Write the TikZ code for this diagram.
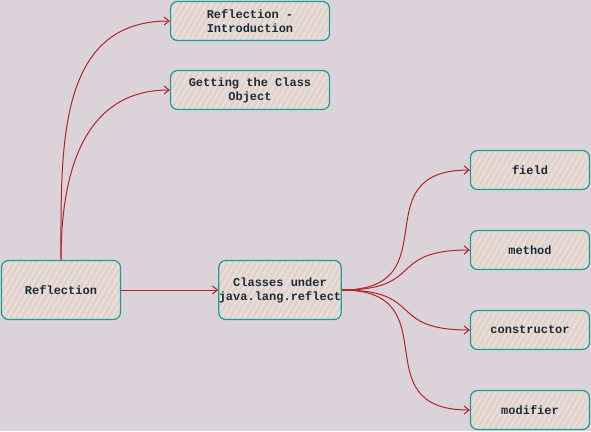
\documentclass[tikz,border=0pt]{standalone}
\usepackage{fontspec}
\setmonofont{Liberation Mono}
\usetikzlibrary{arrows.meta,patterns.meta,positioning}
\definecolor{bgmauve}{HTML}{DCD3DA}
\definecolor{edgeteal}{HTML}{1C9C98}
\definecolor{hatchpeach}{HTML}{F3E0C4}
\definecolor{inkblue}{HTML}{1B2B3A}
\definecolor{linkred}{HTML}{B22424}

\begin{document}
\begin{tikzpicture}[x=1pt,y=-1pt,>={Straight Barb[length=5pt,width=8pt]}]
        \tikzstyle{topic}=[draw=edgeteal,line width=1.2pt,rounded corners=7pt,
            pattern={Lines[angle=60,distance=5pt,line width=1.8pt]},pattern color=hatchpeach,
            text=inkblue,font=\ttfamily\bfseries\fontsize{12}{14}\selectfont,
            align=center,minimum width=119pt,minimum height=59pt,inner sep=0pt]
        \tikzstyle{leaf}=[topic,minimum height=39pt]
        \tikzstyle{wide}=[leaf,minimum width=159pt]
        \tikzstyle{link}=[->,draw=linkred,line width=1pt]
        % canvas
        \fill[bgmauve] (0,0) rectangle (591,431);
        % boxes
        \node[topic](refl) at (61,290){Reflection};
        \node[wide](intro) at (250,21){Reflection -\\Introduction};
        \node[wide](getobj) at (250,90){Getting the Class\\Object};
        \node[topic](classes) at (280,290){Classes under\\java.lang.reflect};
        \node[leaf](field) at (530,170){field};
        \node[leaf](method) at (530,250){method};
        \node[leaf](ctor) at (530,330){constructor};
        \node[leaf](modif) at (530,410){modifier};
        % links
        \draw[link] (refl.north) to[out=90,in=180,looseness=1.1] (intro.west);
        \draw[link] (refl.north) to[out=90,in=180,looseness=1.1] (getobj.west);
        \draw[link] (refl.east) -- (classes.west);
        \draw[link] (classes.east) to[out=0,in=180,looseness=1.6] (field.west);
        \draw[link] (classes.east) to[out=0,in=180,looseness=1.6] (method.west);
        \draw[link] (classes.east) to[out=0,in=180,looseness=1.6] (ctor.west);
        \draw[link] (classes.east) to[out=0,in=180,looseness=1.6] (modif.west);
\end{tikzpicture}
\end{document}
